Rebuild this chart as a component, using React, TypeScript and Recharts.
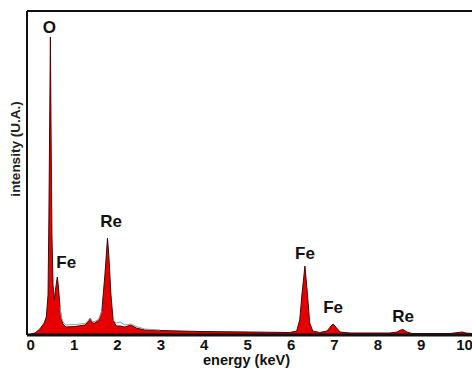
import { Area, ComposedChart, Line, ReferenceDot, ReferenceLine, XAxis, YAxis } from "recharts";

// EDS spectrum (intensity in arbitrary units)
const energy = [
  0, 0.1, 0.21, 0.31, 0.36, 0.4, 0.42, 0.445, 0.454, 0.47, 0.49, 0.515, 0.544, 0.57, 0.613, 0.64, 0.675,
  0.71, 0.745, 0.81, 1.02, 1.25, 1.32, 1.37, 1.42, 1.48, 1.57, 1.64, 1.71, 1.77, 1.8, 1.85, 1.9, 1.97,
  2.06, 2.17, 2.31, 2.43, 2.63, 2.98, 3.9, 5.05, 5.97, 6.13, 6.2, 6.25, 6.32, 6.37, 6.43, 6.5, 6.66,
  6.83, 6.92, 6.97, 7.03, 7.13, 7.36, 8.28, 8.44, 8.53, 8.58, 8.67, 8.79, 9.66, 9.85, 9.94, 10.03, 10.17,
];

const counts = [
  1, 2, 6, 12, 18, 40, 120, 250, 298, 200, 100, 50, 35, 45, 58, 48, 28,
  16, 11, 8, 8.5, 10, 13, 17, 12, 12, 15, 24, 60, 97, 80, 40, 15, 9,
  9, 8, 10, 7, 5, 4.5, 3.5, 3, 2.5, 4, 15, 40, 69, 45, 12, 4, 2.5,
  4, 9, 11, 8, 3, 2, 2, 3, 5, 5.5, 3, 1.5, 1.5, 2.5, 3, 2, 1.5,
];

// second (grey) trace, only where it shows above the red one
const overlay = [
  null, null, null, null, null, null, null, null, null, null, null, null, null, null, null, null, 28,
  17, 13, 10, 10.5, 11.5, 14, 17, 13.5, 13.5, 16, 24, null, null, null, null, 15, 12,
  13, 10, 11, 8.5, 6, 5, null, null, null, null, null, null, null, null, null, null, null,
  null, null, null, null, null, null, null, null, null, null, null, null, null, null, null, null, null,
];

const xTicks = [0, 1, 2, 3, 4, 5, 6, 7, 8, 9, 10];

const peakNames = ["O", "Fe", "Re", "Fe", "Fe", "Re"];
const peakEnergy = [0.454, 0.613, 1.77, 6.32, 6.97, 8.58];
const peakHeight = [298, 58, 97, 69, 11, 5.5];

const data = energy.map((e, i) => ({ e, v: counts[i], g: overlay[i] }));

const FONT = "'Liberation Sans', Arial, sans-serif";
const RED = "#e60000";

// label offsets from the peak tip, in px
const labelShift = [
  [-1, -4],
  [9, -9],
  [3.5, -11],
  [0, -7],
  [0, -11],
  [0, -8],
];

function peakLabel(text: string, dx: number, dy: number) {
  return (props: any) => {
    const vb = props.viewBox || {};
    const cx = vb.cx ?? vb.x + (vb.width || 0) / 2;
    const cy = vb.cy ?? vb.y + (vb.height || 0) / 2;
    return (
      <text x={cx + dx} y={cy + dy} textAnchor="middle" fontFamily={FONT} fontWeight="bold" fontSize={17} fill="#111">
        {text}
      </text>
    );
  };
}

export default function App() {
  return (
    <div style={{ position: "absolute", left: 0, top: 0, width: 472, height: 368, background: "#fff" }}>
      <ComposedChart width={472} height={368} data={data} margin={{ top: 11, right: 0, bottom: 0, left: 0 }}>
        <XAxis
          dataKey="e"
          type="number"
          domain={[-0.085, 10.17]}
          allowDataOverflow
          ticks={xTicks}
          height={33}
          tickSize={0}
          tickMargin={4}
          tickLine={false}
          axisLine={{ stroke: "#111", strokeWidth: 3 }}
          tick={{ fontSize: 15, fontWeight: "bold", fill: "#111", fontFamily: FONT }}
          label={(props: any) => {
            const vb = props.viewBox || {};
            return (
              <text x={vb.x + vb.width / 2 - 3} y={vb.y + vb.height - 3} textAnchor="middle" fontFamily={FONT} fontWeight="bold" fontSize={14.5} fill="#111">
                energy (keV)
              </text>
            );
          }}
        />
        <YAxis
          type="number"
          domain={[0, 324]}
          allowDataOverflow
          width={27}
          tick={false}
          tickLine={false}
          axisLine={{ stroke: "#111", strokeWidth: 2 }}
          label={(props: any) => {
            const vb = props.viewBox || {};
            const y = vb.y + 138;
            return (
              <text x={15} y={y} transform={`rotate(-90 15 ${y})`} textAnchor="middle" dominantBaseline="central" fontFamily={FONT} fontWeight="bold" fontSize={13.5} fill="#222">
                intensity (U.A.)
              </text>
            );
          }}
        />
        <ReferenceLine y={324} stroke="#111" strokeWidth={2} />
        <Line dataKey="g" type="linear" stroke="#9a9a9a" strokeWidth={1} dot={false} connectNulls={false} isAnimationActive={false} />
        <Area dataKey="v" type="linear" fill={RED} fillOpacity={1} stroke="#4a0606" strokeWidth={1} isAnimationActive={false} />
        {peakNames.map((name, i) => (
          <ReferenceDot
            key={i}
            x={peakEnergy[i]}
            y={peakHeight[i]}
            r={1}
            fill="none"
            stroke="none"
            label={peakLabel(name, labelShift[i][0], labelShift[i][1])}
          />
        ))}
      </ComposedChart>
    </div>
  );
}
